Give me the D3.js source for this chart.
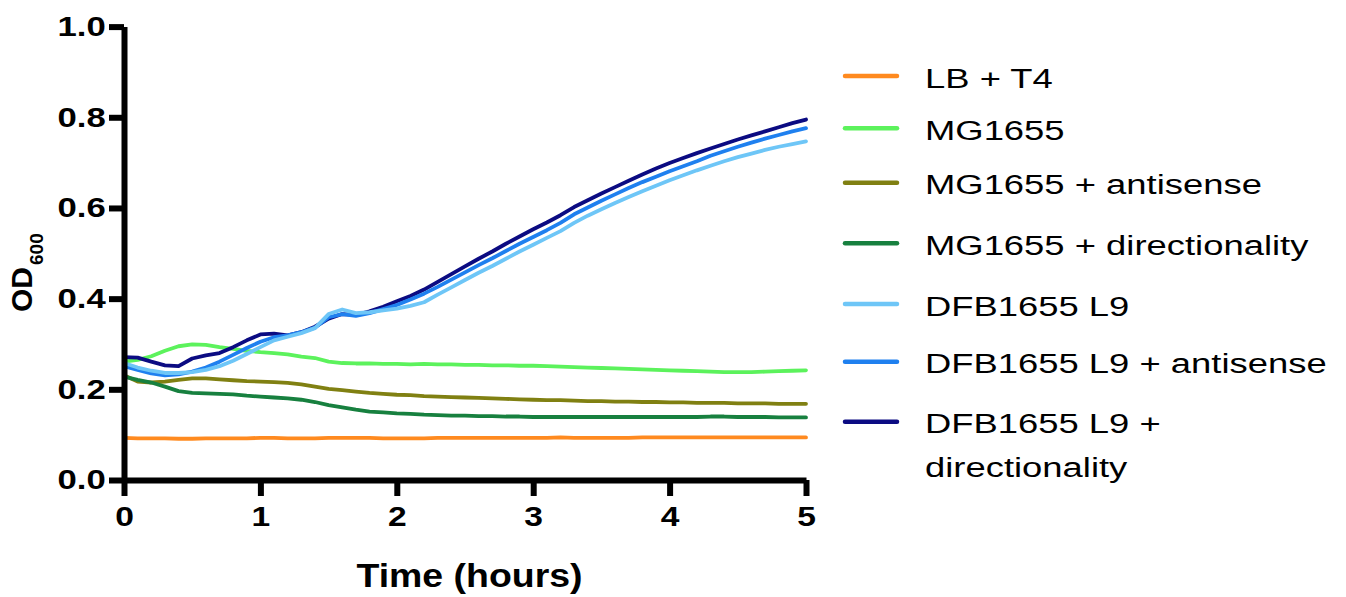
<!DOCTYPE html>
<html>
    <head>
        <script src="https://d3js.org/d3.v7.min.js"></script>
        <style>
            body { margin: 0; background: #fff; }
            #vizBody { width: 1346px; height: 597px; }
            text { font-family: "Liberation Sans", Arial, sans-serif; }
        </style>
    </head>
    <body>
        <div id="vizBody"></div>
    </body>
    <script>
        // time points (hours)
        let times = [0.0, 0.1, 0.2, 0.3, 0.4, 0.5, 0.6, 0.7, 0.8, 0.9,
                     1.0, 1.1, 1.2, 1.3, 1.4, 1.5, 1.6, 1.7, 1.8, 1.9,
                     2.0, 2.1, 2.2, 2.3, 2.4, 2.5, 2.6, 2.7, 2.8, 2.9,
                     3.0, 3.1, 3.2, 3.3, 3.4, 3.5, 3.6, 3.7, 3.8, 3.9,
                     4.0, 4.1, 4.2, 4.3, 4.4, 4.5, 4.6, 4.7, 4.8, 4.9, 5.0];

        // OD600 per series
        let lbT4 = [0.093, 0.092, 0.092, 0.092, 0.091, 0.091, 0.092, 0.092, 0.092, 0.092,
                    0.093, 0.093, 0.092, 0.092, 0.092, 0.093, 0.093, 0.093, 0.093, 0.092,
                    0.092, 0.092, 0.092, 0.093, 0.093, 0.093, 0.093, 0.093, 0.093, 0.093,
                    0.093, 0.093, 0.094, 0.093, 0.093, 0.093, 0.093, 0.093, 0.094, 0.094,
                    0.094, 0.094, 0.094, 0.094, 0.094, 0.094, 0.094, 0.094, 0.094, 0.094, 0.094];
        let mg = [0.261, 0.265, 0.273, 0.285, 0.295, 0.299, 0.298, 0.293, 0.289, 0.285,
                  0.282, 0.280, 0.277, 0.272, 0.269, 0.261, 0.258, 0.257, 0.257, 0.256,
                  0.256, 0.255, 0.256, 0.255, 0.255, 0.254, 0.254, 0.253, 0.253, 0.252,
                  0.252, 0.251, 0.250, 0.249, 0.248, 0.247, 0.246, 0.245, 0.244, 0.243,
                  0.242, 0.241, 0.240, 0.239, 0.238, 0.238, 0.238, 0.239, 0.240, 0.241, 0.242];
        let mgAnti = [0.231, 0.217, 0.215, 0.217, 0.221, 0.224, 0.224, 0.222, 0.220, 0.218,
                      0.217, 0.216, 0.214, 0.211, 0.206, 0.201, 0.198, 0.195, 0.192, 0.190,
                      0.188, 0.187, 0.185, 0.184, 0.183, 0.182, 0.181, 0.180, 0.179, 0.178,
                      0.177, 0.176, 0.176, 0.175, 0.174, 0.174, 0.173, 0.173, 0.172, 0.172,
                      0.171, 0.171, 0.170, 0.170, 0.170, 0.169, 0.169, 0.169, 0.168, 0.168, 0.168];
        let mgDir = [0.228, 0.221, 0.215, 0.206, 0.196, 0.192, 0.191, 0.190, 0.189, 0.186,
                     0.184, 0.182, 0.180, 0.177, 0.172, 0.165, 0.160, 0.155, 0.151, 0.149,
                     0.147, 0.146, 0.144, 0.143, 0.142, 0.142, 0.141, 0.141, 0.140, 0.140,
                     0.139, 0.139, 0.139, 0.139, 0.139, 0.139, 0.139, 0.139, 0.139, 0.139,
                     0.139, 0.139, 0.139, 0.140, 0.140, 0.139, 0.139, 0.139, 0.138, 0.138, 0.138];
        let dfb = [0.258, 0.248, 0.241, 0.236, 0.236, 0.238, 0.243, 0.251, 0.263, 0.278,
                   0.293, 0.308, 0.316, 0.324, 0.335, 0.366, 0.376, 0.368, 0.370, 0.374,
                   0.378, 0.384, 0.392, 0.409, 0.425, 0.441, 0.457, 0.472, 0.488, 0.504,
                   0.519, 0.534, 0.549, 0.567, 0.583, 0.597, 0.611, 0.624, 0.637, 0.649,
                   0.661, 0.672, 0.683, 0.693, 0.703, 0.712, 0.720, 0.728, 0.735, 0.741, 0.747];
        let dfbAnti = [0.251, 0.243, 0.235, 0.231, 0.233, 0.239, 0.248, 0.261, 0.276, 0.291,
                       0.305, 0.315, 0.319, 0.326, 0.336, 0.359, 0.366, 0.362, 0.368, 0.377,
                       0.386, 0.398, 0.411, 0.426, 0.442, 0.458, 0.474, 0.489, 0.505, 0.521,
                       0.536, 0.551, 0.567, 0.586, 0.601, 0.616, 0.630, 0.644, 0.657, 0.669,
                       0.681, 0.692, 0.703, 0.715, 0.725, 0.735, 0.744, 0.753, 0.761, 0.769, 0.776];
        let dfbDir = [0.271, 0.270, 0.261, 0.253, 0.251, 0.268, 0.275, 0.280, 0.293, 0.308,
                      0.321, 0.323, 0.319, 0.326, 0.338, 0.356, 0.366, 0.364, 0.372, 0.382,
                      0.394, 0.406, 0.420, 0.437, 0.454, 0.471, 0.488, 0.504, 0.521, 0.537,
                      0.553, 0.568, 0.584, 0.602, 0.617, 0.632, 0.646, 0.660, 0.674, 0.687,
                      0.699, 0.710, 0.721, 0.731, 0.741, 0.751, 0.760, 0.769, 0.778, 0.787, 0.795];

        let seriesNames = ["LB + T4", "MG1655", "MG1655 + antisense", "MG1655 + directionality",
                           "DFB1655 L9", "DFB1655 L9 + antisense", "DFB1655 L9 + directionality"];
        let seriesValues = [lbT4, mg, mgAnti, mgDir, dfb, dfbAnti, dfbDir];
        let seriesColors = ["#ff8a1f", "#5cf25c", "#808012", "#17803f", "#6ec6f7", "#1f80ef", "#0b0b82"];

        let xTicks = [0, 1, 2, 3, 4, 5];
        let yTicks = [0.0, 0.2, 0.4, 0.6, 0.8, 1.0];

        let svg = d3.select("#vizBody")
                    .append("svg")
                        .attr("width", 1346)
                        .attr("height", 597);

        let xScale = d3.scaleLinear().domain([0, 5]).range([124, 806]);
        let yScale = d3.scaleLinear().domain([0, 1]).range([480, 26.6]);

        // lines (navy first so the lighter blues sit on top)
        let drawOrder = [0, 1, 2, 3, 6, 5, 4];
        let line = d3.line()
                     .x((d, i) => xScale(times[i]))
                     .y(d => yScale(d));

        svg.append("g")
           .selectAll("path")
           .data(drawOrder)
           .join("path")
               .attr("d", k => line(seriesValues[k]))
               .attr("fill", "none")
               .attr("stroke", k => seriesColors[k])
               .attr("stroke-width", 3.8)
               .attr("stroke-linejoin", "round")
               .attr("stroke-linecap", "round");

        // y axis
        let yAxis = svg.append("g")
                       .attr("transform", "translate(124,0)")
                       .call(d3.axisLeft(yScale)
                               .tickValues(yTicks)
                               .tickFormat(d3.format(".1f"))
                               .tickSize(15)
                               .tickSizeOuter(0)
                               .tickPadding(3));

        // x axis
        let xAxis = svg.append("g")
                       .attr("transform", "translate(0,480)")
                       .call(d3.axisBottom(xScale)
                               .tickValues(xTicks)
                               .tickFormat(d3.format("d"))
                               .tickSize(16)
                               .tickSizeOuter(0)
                               .tickPadding(11));

        [yAxis, xAxis].forEach(ax => {
            ax.select(".domain").attr("stroke", "#000").attr("stroke-width", 6);
            ax.selectAll(".tick line").attr("stroke", "#000").attr("stroke-width", 6);
            ax.selectAll(".tick text")
              .attr("fill", "#000")
              .style("font-size", "28px")
              .style("font-weight", "bold");
        });

        // widen the tick labels like the original rendering
        yAxis.selectAll(".tick text")
             .attr("x", 0)
             .attr("transform", "translate(-18.3,0) scale(1.24,1)");
        xAxis.selectAll(".tick text")
             .attr("y", 0)
             .attr("transform", "translate(0,26) scale(1.2,1)");

        // axis titles
        svg.append("text")
           .attr("transform", "translate(469.5,587) scale(1.135,1)")
           .attr("text-anchor", "middle")
           .style("font-size", "33px")
           .style("font-weight", "bold")
           .text("Time (hours)");

        let yTitle = svg.append("text")
                        .attr("transform", "translate(32,312) rotate(-90)")
                        .style("font-size", "30px")
                        .style("font-weight", "bold");
        yTitle.append("tspan").text("OD");
        yTitle.append("tspan")
              .attr("dx", 2)
              .attr("dy", 11)
              .style("font-size", "19px")
              .text("600");

        // legend
        let legendRows = [76, 128.3, 182.7, 243.3, 304, 361.7, 421.7];
        let legend = svg.append("g");

        legend.selectAll("line")
              .data(seriesNames)
              .join("line")
                  .attr("x1", 845)
                  .attr("x2", 897)
                  .attr("y1", (d, i) => legendRows[i])
                  .attr("y2", (d, i) => legendRows[i])
                  .attr("stroke", (d, i) => seriesColors[i])
                  .attr("stroke-width", 4.5)
                  .attr("stroke-linecap", "round");

        legend.selectAll("text")
              .data(seriesNames)
              .join("text")
                  .attr("transform", (d, i) => "translate(925," + (legendRows[i] + 11.5) + ") scale(1.3,1)")
                  .style("font-size", "28px")
                  .attr("fill", "#000")
                  .each(function(d) {
                      let el = d3.select(this);
                      if (d === "DFB1655 L9 + directionality") {
                          el.append("tspan").attr("x", 0).text("DFB1655 L9 +");
                          el.append("tspan").attr("x", 0).attr("dy", 44).text("directionality");
                      } else {
                          el.text(d);
                      }
                  });
    </script>
</html>
